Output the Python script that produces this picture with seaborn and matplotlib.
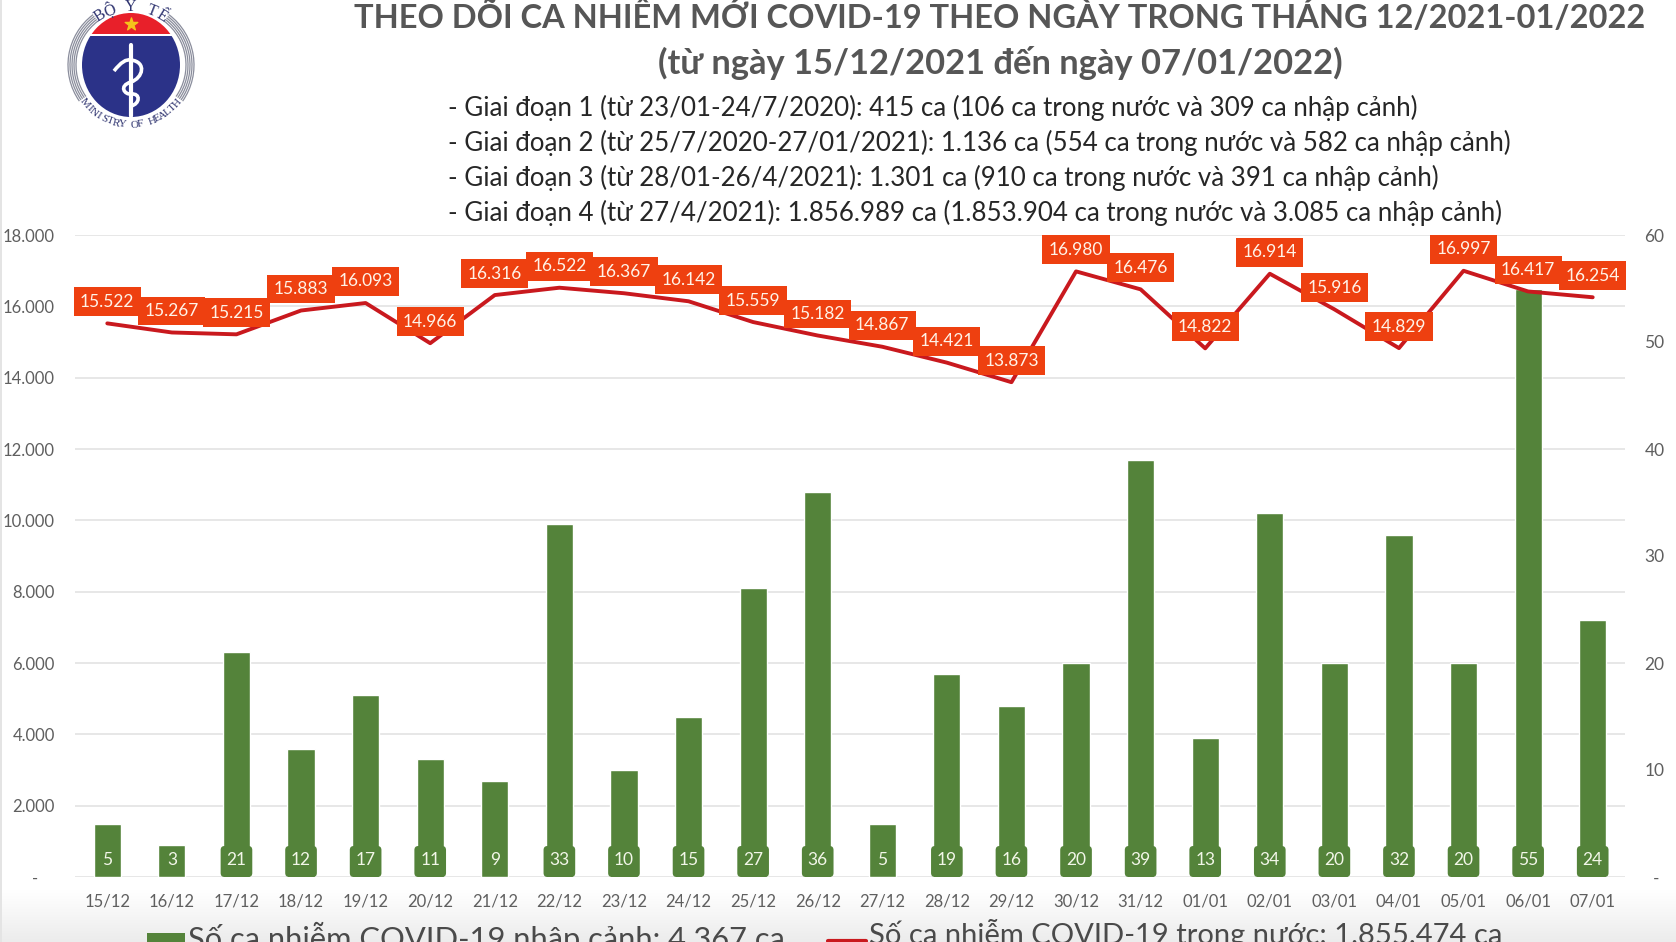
import numpy as np
import pandas as pd
import matplotlib
matplotlib.use("Agg")
import matplotlib.pyplot as plt
import seaborn as sns
from matplotlib.patches import Ellipse, Rectangle, Arc, PathPatch, FancyBboxPatch
from matplotlib.path import Path

dates = ["15/12","16/12","17/12","18/12","19/12","20/12","21/12","22/12","23/12","24/12","25/12","26/12",
         "27/12","28/12","29/12","30/12","31/12","01/01","02/01","03/01","04/01","05/01","06/01","07/01"]
domestic = [15522,15267,15215,15883,16093,14966,16316,16522,16367,16142,15559,15182,
            14867,14421,13873,16980,16476,14822,16914,15916,14829,16997,16417,16254]
imported = [5,3,21,12,17,11,9,33,10,15,27,36,5,19,16,20,39,13,34,20,32,20,55,24]
left_ticks = [0,2000,4000,6000,8000,10000,12000,14000,16000,18000]
left_labels = ["-    ","2.000","4.000","6.000","8.000","10.000","12.000","14.000","16.000","18.000"]
right_ticks = [0,10,20,30,40,50,60]
right_labels = ["  -","10","20","30","40","50","60"]
title_lines = ["THEO DÕI CA NHIỄM MỚI COVID-19 THEO NGÀY TRONG THÁNG 12/2021-01/2022",
               "(từ ngày 15/12/2021 đến ngày 07/01/2022)"]
notes = ["- Giai đoạn 1 (từ 23/01-24/7/2020): 415 ca (106 ca trong nước và 309 ca nhập cảnh)",
         "- Giai đoạn 2 (từ 25/7/2020-27/01/2021): 1.136 ca (554 ca trong nước và 582 ca nhập cảnh)",
         "- Giai đoạn 3 (từ 28/01-26/4/2021): 1.301 ca (910 ca trong nước và 391 ca nhập cảnh)",
         "- Giai đoạn 4 (từ 27/4/2021): 1.856.989 ca (1.853.904 ca trong nước và 3.085 ca nhập cảnh)"]
legend_bar = "Số ca nhiễm COVID-19 nhập cảnh: 4.367 ca"
legend_line = "Số ca nhiễm COVID-19 trong nước: 1.855.474 ca"

W, H = 1676, 942
sns.set_theme(style="white")
plt.rcParams["font.family"] = ["Lato", "Noto Sans", "DejaVu Sans"]

GREEN, RED, LABEL = "#54833a", "#c9191e", "#ee4010"
GRAY = "#5f5f5f"
df = pd.DataFrame({"date": dates, "domestic": domestic, "imported": imported})

fig = plt.figure(figsize=(W/100, H/100), dpi=100, facecolor="white")
def px_axes(x0, y0, x1, y1, **kw):
    return fig.add_axes([x0/W, 1-y1/H, (x1-x0)/W, (y1-y0)/H], **kw)

# page shading at the bottom and left edge
bg = px_axes(0, 0, W, H, zorder=0)
bg.axis("off")
bg.imshow(np.linspace(0, 1, 60)[:, None], extent=(0, W, H, 890), aspect="auto",
          cmap=matplotlib.colors.LinearSegmentedColormap.from_list("s", ["#ffffff", "#ececec"]))
bg.add_patch(Rectangle((0, 0), 2, H, color="#e4e4e4", lw=0))
bg.set_xlim(0, W); bg.set_ylim(H, 0)

# ax carries left ticks, x ticks and grid; axr the bars; ax_line the line
ax = px_axes(75, 235, 1625, 877, zorder=2)
ax.patch.set_alpha(0)
axr = ax.twinx()
axr.set_zorder(3); axr.patch.set_alpha(0)
ax_line = ax.twinx()
ax_line.set_zorder(4); ax_line.patch.set_alpha(0)

sns.barplot(data=df, x="date", y="imported", color=GREEN, saturation=1, width=0.42, ax=axr)
axr.set_ylim(0, 60); axr.set_xlim(-0.5, 23.5)
axr.yaxis.tick_right()
axr.set_yticks(right_ticks, right_labels)
axr.tick_params(axis="y", length=0, labelsize=12.5, labelcolor=GRAY, pad=14)
axr.tick_params(axis="x", bottom=False, labelbottom=False)
axr.set_ylabel(""); axr.set_xlabel("")

sns.lineplot(data=df, x="date", y="domestic", color=RED, lw=2.8, sort=False, ax=ax_line)
ax_line.set_ylim(0, 18000); ax_line.set_xlim(-0.5, 23.5)
ax_line.set_xlabel(""); ax_line.set_ylabel("")
ax_line.yaxis.set_visible(False)
ax_line.tick_params(axis="x", bottom=False, labelbottom=False)

ax.set_ylim(0, 18000); ax.set_xlim(-0.5, 23.5)
ax.yaxis.tick_left()
ax.set_yticks(left_ticks, left_labels)
ax.set_xticks(range(len(dates)), dates)
ax.tick_params(axis="y", length=0, labelsize=12, labelcolor=GRAY, pad=14.5)
ax.tick_params(axis="x", length=0, labelsize=12, labelcolor=GRAY, pad=12)
ax.yaxis.grid(True, color="#e3e3e3", lw=1.2)
for a in (ax, axr, ax_line):
    for s in a.spines.values():
        s.set_visible(False)

for i, (d, n) in enumerate(zip(domestic, imported)):
    ax_line.annotate(f"{d:,}".replace(",", "."), (i, d), xytext=(0, 15.5), textcoords="offset points",
                     ha="center", va="center", fontsize=12.5, color="#fff3e8", zorder=6,
                     bbox=dict(boxstyle="square,pad=0.37", fc=LABEL, ec="none"))
    if n > 9:
        ax_line.add_patch(FancyBboxPatch((i-0.245, 0), 0.49, 869, boxstyle="round,pad=0,rounding_size=0.06",
                                         mutation_aspect=1867, fc=GREEN, ec="none", zorder=1))
    ax_line.annotate(str(n), (i, 0), xytext=(0, 12.5), textcoords="offset points",
                     ha="center", va="center", fontsize=12.5, color="#f2f6e8", zorder=6)

# title and notes
ov = px_axes(0, 0, W, H, zorder=5)
ov.axis("off"); ov.set_xlim(0, W); ov.set_ylim(H, 0); ov.patch.set_alpha(0)
ov.text(1000, 14, title_lines[0], ha="center", va="center", fontsize=23.5, fontweight="bold", color="#565656")
ov.text(1000, 63, title_lines[1], ha="center", va="center", fontsize=24.8, fontweight="bold", color="#565656")
for y, t in zip((108, 143, 178, 213), notes):
    ov.text(448, y, t, ha="left", va="center", fontsize=18.65, color="#262626")

# legend, cut by the bottom edge as in the source
ov.add_patch(Rectangle((147, 933), 38, 12, color=GREEN, lw=0))
ov.text(188, 938, legend_bar, ha="left", va="center", fontsize=22.2, color="#4a4a4a", clip_on=True)
ov.plot([828, 866], [941, 941], color=RED, lw=3)
ov.text(869, 934, legend_line, ha="left", va="center", fontsize=21, color="#4a4a4a", clip_on=True)

# emblem
lg = px_axes(60, 0, 200, 140, zorder=6)
lg.axis("off"); lg.set_xlim(60, 200); lg.set_ylim(140, 0); lg.set_aspect("equal")
cx, cy = 131, 65
for r in (63, 61, 59, 57, 55):
    lg.add_patch(Arc((cx, cy), 2*r, 2*r, theta1=145, theta2=233, color="#8a8d9c", lw=0.9))
    lg.add_patch(Arc((cx, cy), 2*r, 2*r, theta1=-53, theta2=35, color="#8a8d9c", lw=0.9))
blue = Ellipse((cx, cy), 98, 104, fc="#2b3288", ec="none")
lg.add_patch(blue)
blue.set_clip_path(Rectangle((60, 36), 140, 100, transform=lg.transData))
red = Ellipse((cx, cy), 98, 104, fc="#e8202a", ec="none")
lg.add_patch(red)
red.set_clip_path(Rectangle((60, 0), 140, 34, transform=lg.transData))
lg.scatter([cx], [24], marker="*", s=90, color="#f5c21b", zorder=5)
lg.plot([cx, cx], [45, 116], color="white", lw=3, zorder=5, solid_capstyle="round")
snake = Path([(114, 71), (124, 58), (cx, 60), (147, 62), (143, 78), (cx, 82), (118, 86), (125, 95), (cx, 94),
              (141, 93), (140, 104), (cx, 106)],
             [Path.MOVETO] + [Path.CURVE3]*2 + [Path.CURVE4]*3 + [Path.CURVE4]*3 + [Path.CURVE4]*3)
lg.add_patch(PathPatch(snake, fc="none", ec="white", lw=2.6, zorder=6))
def arc_text(s, r, a0, a1, fs, flip):
    for ch, a in zip(s, np.linspace(a0, a1, len(s))):
        t = np.radians(a)
        lg.text(cx+r*np.cos(t), cy-r*np.sin(t), ch, ha="center", va="center", fontsize=fs, color="#2f3470",
                rotation=(a-90) if not flip else (a+90), family=["Liberation Serif", "DejaVu Sans"])
arc_text("BỘ Y TẾ", 58, 122, 58, 11.5, False)
arc_text("MINISTRY OF HEALTH", 60, 220, 320, 8, True)

fig.savefig("out.png", dpi=100)
